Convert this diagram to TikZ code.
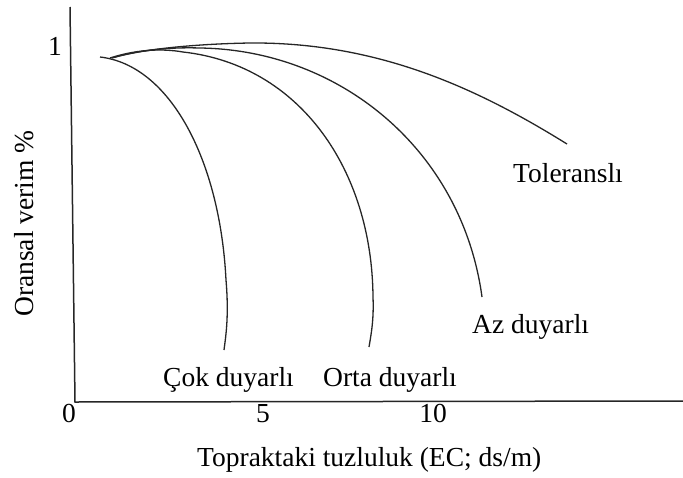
\documentclass[tikz,border=0pt]{standalone}
\usepackage{fontspec}
\setmainfont{Liberation Serif}
\begin{document}
\begin{tikzpicture}[x=1pt,y=-1pt,
  lbl/.style={inner sep=0pt,font=\fontsize{27.5}{30}\selectfont},
  axis/.style={line width=1.5pt,black!85},
  crv/.style={line width=1.3pt,black!85}]
\useasboundingbox (0,0) rectangle (683,477);
% axes
\coordinate (ytop) at (70,7);
\coordinate (orig) at (75,402);
\coordinate (xend) at (683,401);
\draw[axis] (ytop) -- (orig) -- (xend);
% curves
\draw[crv] (100,57) .. controls (170,65) and (220,160) .. (226,280)
                    .. controls (229,315) and (226,335) .. (224,350);
\draw[crv] (110,58) .. controls (135,50) and (160,48) .. (183,52)
                    .. controls (300,65) and (372,170) .. (373,297)
                    .. controls (374,320) and (371,335) .. (369,347);
\draw[crv] (112,58) .. controls (140,50) and (170,47) .. (200,48)
                    .. controls (340,50) and (462,150) .. (482,297);
\draw[crv] (115,57) .. controls (140,50) and (190,44) .. (250,43)
                    .. controls (380,42) and (480,90) .. (567,144);
% labels
\node[lbl,anchor=base west] (tol) at (513,182) {Toleranslı};
\node[lbl,anchor=base west] (az) at (472,333) {Az duyarlı};
\node[lbl,anchor=base west] (cok) at (163,386.5) {Çok duyarlı};
\node[lbl,anchor=base west] (orta) at (323,386.5) {Orta duyarlı};
\node[lbl,anchor=base] (one) at (55,55) {1};
\node[lbl,anchor=base] (zero) at (69,422) {0};
\node[lbl,anchor=base] (five) at (263,422) {5};
\node[lbl,anchor=base] (ten) at (433,422) {10};
\node[lbl,anchor=base west] (xl) at (197,466.5) {Topraktaki tuzluluk (EC; ds/m)};
\node[lbl,anchor=base west,rotate=90] (yl) at (33,317) {Oransal verim \%};
\end{tikzpicture}
\end{document}
